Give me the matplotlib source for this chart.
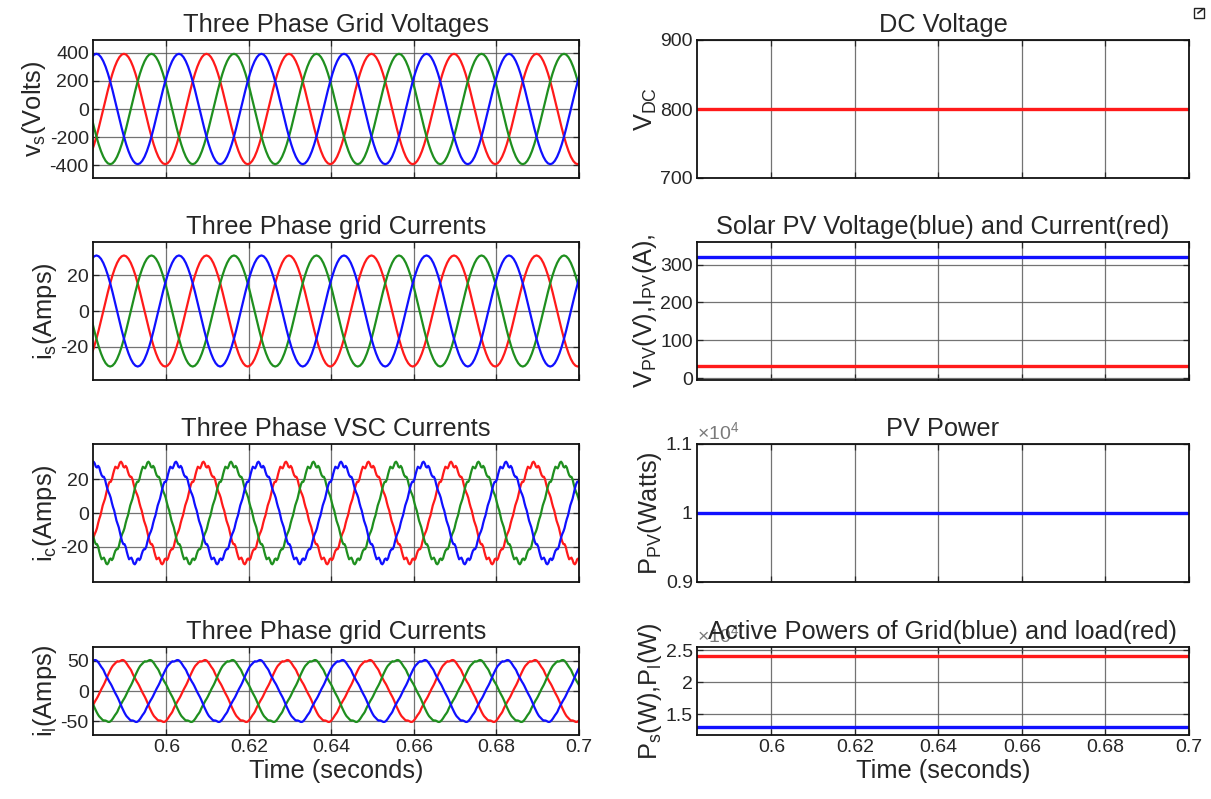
import numpy as np
import matplotlib
matplotlib.use("Agg")
import matplotlib.pyplot as plt
from matplotlib.ticker import FixedLocator, FuncFormatter
from matplotlib.patches import Rectangle
from matplotlib.lines import Line2D

plt.rcParams['font.family'] = ['Liberation Sans', 'DejaVu Sans']
plt.rcParams['mathtext.fontset'] = 'custom'
plt.rcParams['mathtext.rm'] = 'Liberation Sans'
plt.rcParams['mathtext.it'] = 'Liberation Sans:italic'
plt.rcParams['axes.unicode_minus'] = False

# ---------------- data ----------------
T_START, T_END = 0.5822, 0.7
PERIOD = 0.02                      # 50 Hz
xticks = [0.6, 0.62, 0.64, 0.66, 0.68, 0.7]
xtick_labels = ["0.6", "0.62", "0.64", "0.66", "0.68", "0.7"]

# one cycle of phase-a (red) waveforms, samples from its peak (10 deg steps)
vs_cycle = [392, 386, 368, 339, 300, 252, 196, 134, 68, 0, -68, -134, -196, -252,
            -300, -339, -368, -386, -392, -386, -368, -339, -300, -252, -196, -134,
            -68, 0, 68, 134, 196, 252, 300, 339, 368, 386]
is_cycle = [31, 30.5, 29.1, 26.8, 23.7, 19.9, 15.5, 10.6, 5.4, 0, -5.4, -10.6, -15.5,
            -19.9, -23.7, -26.8, -29.1, -30.5, -31, -30.5, -29.1, -26.8, -23.7, -19.9,
            -15.5, -10.6, -5.4, 0, 5.4, 10.6, 15.5, 19.9, 23.7, 26.8, 29.1, 30.5]
# distorted currents (5 deg steps)
ic_cycle = [30.5, 29.5, 27.5, 27, 28, 27, 24.5, 22.5, 21.5, 21.5, 20, 17, 14.5, 12.5,
            11, 9, 6, 3.5, 1.5, -1.5, -4.5, -6.5, -8.5, -11.5, -14.5, -17, -18.5, -18.5,
            -20, -23, -25.5, -27.5, -27, -26.5, -28, -30,
            -30.5, -29.5, -27.5, -27, -28, -27, -24.5, -22.5, -21.5, -21.5, -20, -17,
            -14.5, -12.5, -11, -9, -6, -3.5, -1.5, 1.5, 4.5, 6.5, 8.5, 11.5, 14.5, 17,
            18.5, 18.5, 20, 23, 25.5, 27.5, 27, 26.5, 28, 30]
il_cycle = [51.5, 50.5, 48.5, 46, 43, 40, 37.5, 34.5, 30, 26, 22.5, 19, 15.5, 12.5, 9,
            5, 1, -3, -6.5, -10, -14, -18.5, -23, -27.5, -31.5, -35.5, -39, -42, -44,
            -46, -48, -49.5, -49, -49.5, -50.5, -51.5,
            -51.5, -50.5, -48.5, -46, -43, -40, -37.5, -34.5, -30, -26, -22.5, -19,
            -15.5, -12.5, -9, -5, -1, 3, 6.5, 10, 14, 18.5, 23, 27.5, 31.5, 35.5, 39,
            42, 44, 46, 48, 49.5, 49, 49.5, 50.5, 51.5]
# time of the phase-a peak
vs_peak, is_peak, ic_peak, il_peak = 0.5897, 0.5897, 0.5890, 0.5895

# constant quantities
t_span = [T_START, T_END]
v_dc = [800, 800]
v_pv = [320, 320]
i_pv = [31.25, 31.25]
p_pv = [10000, 10000]
p_grid = [13000, 13000]
p_load = [24100, 24100]

RED, GREEN, BLUE = '#ff1a1a', '#1f8f1f', '#1010ff'
TXT = '#262626'
FS_T = 18.3
FS_TICK = 14


def phase_series(cycle, t_peak, lag):
    n = len(cycle)
    dt = PERIOD / n
    t0 = t_peak + lag
    k0 = int(np.floor((T_START - t0) / dt)) - 1
    k1 = int(np.ceil((T_END - t0) / dt)) + 1
    k = np.arange(k0, k1 + 1)
    return t0 + k * dt, np.asarray(cycle, float)[k % n]


fig = plt.figure(figsize=(12.11, 7.99), dpi=100)
W, H = 1211, 799


def make_ax(x0, x1, y0, y1):
    return fig.add_axes([x0 / W, 1 - y1 / H, (x1 - x0) / W, (y1 - y0) / H])


rows = [(40, 178), (242, 380), (444, 582), (647, 735)]
LX = (93, 579)
RX = (697, 1189)

axL = [make_ax(LX[0], LX[1], *r) for r in rows]
axR = [make_ax(RX[0], RX[1], *r) for r in rows]


def style(ax, yticks, ylim, bottom=False, fmt=None):
    ax.set_xlim(T_START, T_END)
    ax.set_ylim(*ylim)
    ax.xaxis.set_major_locator(FixedLocator(xticks))
    ax.yaxis.set_major_locator(FixedLocator(yticks))
    if bottom:
        ax.set_xticklabels(xtick_labels)
        ax.set_xlabel("Time (seconds)", fontsize=FS_T, color=TXT, labelpad=2)
    else:
        ax.set_xticklabels([])
    if fmt is not None:
        ax.yaxis.set_major_formatter(FuncFormatter(fmt))
    ax.grid(True, color='#5a5a5a', lw=0.9, alpha=0.85)
    ax.set_axisbelow(True)
    ax.tick_params(direction='in', length=4, width=0.9, top=True, right=True,
                   labelsize=FS_TICK, colors=TXT, pad=3)
    for s in ax.spines.values():
        s.set_linewidth(1.3)
        s.set_color('#111111')


def three(ax, cycle, peak):
    for lag, c in [(0, RED), (PERIOD / 3, GREEN), (2 * PERIOD / 3, BLUE)]:
        t, y = phase_series(cycle, peak, lag)
        ax.plot(t, y, color=c, lw=1.6)


three(axL[0], vs_cycle, vs_peak)
three(axL[1], is_cycle, is_peak)
three(axL[2], ic_cycle, ic_peak)
three(axL[3], il_cycle, il_peak)

style(axL[0], [-400, -200, 0, 200, 400], (-490, 490))
style(axL[1], [-20, 0, 20], (-38.5, 38.5))
style(axL[2], [-20, 0, 20], (-41, 41))
style(axL[3], [-50, 0, 50], (-73.3, 73.3), bottom=True)

titlesL = ["Three Phase Grid Voltages", "Three Phase grid Currents",
           "Three Phase VSC Currents", "Three Phase grid Currents"]
ylabL = [r"v$_\mathrm{s}$(Volts)", r"i$_\mathrm{s}$(Amps)",
         r"i$_\mathrm{c}$(Amps)", r"i$_\mathrm{l}$(Amps)"]
for ax, t, yl in zip(axL, titlesL, ylabL):
    ax.set_title(t, fontsize=FS_T, color=TXT, pad=6)
    ax.set_ylabel(yl, fontsize=FS_T, color=TXT, labelpad=1)

# right column
axR[0].plot(t_span, v_dc, color=RED, lw=2.4)
axR[1].plot(t_span, v_pv, color=BLUE, lw=2.4)
axR[1].plot(t_span, i_pv, color=RED, lw=2.4)
axR[2].plot(t_span, p_pv, color=BLUE, lw=2.4)
axR[3].plot(t_span, p_load, color=RED, lw=2.4)
axR[3].plot(t_span, p_grid, color=BLUE, lw=2.4)

e4 = lambda v, p: f"{v / 1e4:g}"
style(axR[0], [700, 800, 900], (700, 900))
style(axR[1], [0, 100, 200, 300], (-5, 360))
style(axR[2], [9000, 10000, 11000], (9000, 11000), fmt=e4)
style(axR[3], [15000, 20000, 25000], (11730, 25470), bottom=True, fmt=e4)

titlesR = ["DC Voltage", "Solar PV Voltage(blue) and Current(red)", "PV Power",
           "Active Powers of Grid(blue) and load(red)"]
ylabR = [r"V$_\mathrm{DC}$", r"V$_\mathrm{PV}$(V),I$_\mathrm{PV}$(A),",
         r"P$_\mathrm{PV}$(Watts)", r"P$_\mathrm{s}$(W),P$_\mathrm{l}$(W)"]
for ax, t, yl in zip(axR, titlesR, ylabR):
    ax.set_title(t, fontsize=FS_T, color=TXT, pad=6)
    ax.set_ylabel(yl, fontsize=FS_T, color=TXT, labelpad=1)

for ax in (axR[2], axR[3]):
    ax.text(0.0, 1.01, r"$\times$10$^{4}$", transform=ax.transAxes, ha='left',
            va='bottom', fontsize=14, color='#7a7a7a', zorder=0)

# small export icon in the top-right corner
fig.patches.append(Rectangle((1194 / W, 1 - 18 / H), 10 / W, 10 / H,
                             transform=fig.transFigure, fill=False, lw=1.0, ec='#222222'))
fig.lines.append(Line2D([1198 / W, 1203 / W], [1 - 13 / H, 1 - 9 / H],
                        transform=fig.transFigure, color='#222222', lw=1.2))

fig.savefig("out.png", dpi=100, facecolor='white')
